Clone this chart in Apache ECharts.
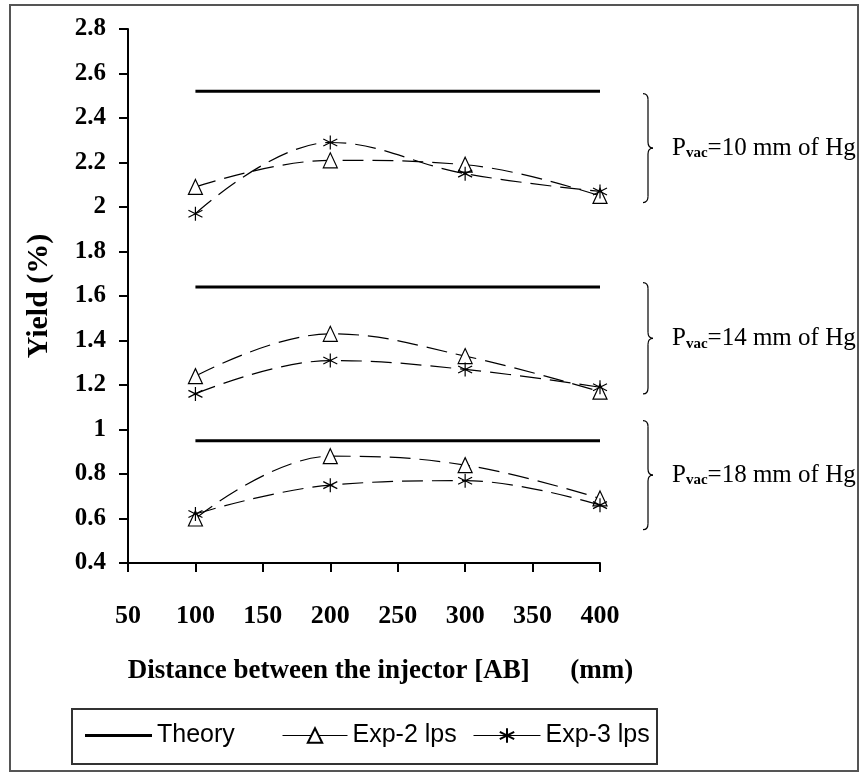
<!DOCTYPE html>
<html><head><meta charset="utf-8">
<script src="https://cdn.jsdelivr.net/npm/echarts@6/dist/echarts.min.js"></script>
<style>html,body{margin:0;padding:0;background:#fff}#c{width:861px;height:776px}</style>
</head><body><div id="c"></div>
<script>
// ---- data ----
const distances = [100, 200, 300, 400];
const theoryX = [100, 400];
const pressureLabels = ['10', '14', '18'];
const theory = [2.52, 1.64, 0.95];
const exp2_p10 = [2.09, 2.21, 2.19, 2.05];
const exp3_p10 = [1.97, 2.29, 2.15, 2.07];
const exp2_p14 = [1.24, 1.43, 1.33, 1.17];
const exp3_p14 = [1.16, 1.31, 1.27, 1.19];
const exp2_p18 = [0.60, 0.88, 0.84, 0.69];
const exp3_p18 = [0.62, 0.75, 0.77, 0.66];
const braceRanges = [[2.51, 2.02], [1.66, 1.16], [1.04, 0.55]];
const legendNames = ['Theory', 'Exp-2 lps', 'Exp-3 lps'];

const exp2 = [exp2_p10, exp2_p14, exp2_p18];
const exp3 = [exp3_p10, exp3_p14, exp3_p18];

const SERIF = "'Liberation Serif','Times New Roman',serif";
const SANS = "'Liberation Sans',Arial,sans-serif";
const starPath = 'path://M5,0 L5,10 M0.7,2.5 L9.3,7.5 M9.3,2.5 L0.7,7.5';

const series = [];
for (let g = 0; g < 3; g++) {
  series.push({
    name: 'Theory', type: 'line', symbol: 'none', silent: true,
    data: theoryX.map(x => [x, theory[g]]),
    lineStyle: {color: '#000', width: 3}, itemStyle: {color: '#000'}, z: 2
  });
  series.push({
    name: 'Exp-2 lps', type: 'line', smooth: 0.4,
    symbol: 'triangle', symbolSize: [14, 15],
    data: distances.map((x, i) => [x, exp2[g][i]]),
    lineStyle: {color: '#000', width: 1.2, type: [21, 9]},
    itemStyle: {color: '#fff', borderColor: '#000', borderWidth: 1.2}, z: 3
  });
  series.push({
    name: 'Exp-3 lps', type: 'line', smooth: 0.4,
    symbol: starPath, symbolSize: 14,
    data: distances.map((x, i) => [x, exp3[g][i]]),
    lineStyle: {color: '#000', width: 1.2, type: [21, 9]},
    itemStyle: {color: '#000', borderColor: '#000', borderWidth: 1.2}, z: 4
  });
}

const legendText = {fontFamily: SANS, fontSize: 25, color: '#000'};
const option = {
  backgroundColor: '#fff',
  animation: false,
  grid: {left: 128, right: 261, top: 29, bottom: 213},
  xAxis: {
    type: 'value', min: 50, max: 400, interval: 50,
    name: 'Distance between the injector [AB]      (mm)',
    nameLocation: 'middle', nameGap: 95,
    nameTextStyle: {fontFamily: SERIF, fontWeight: 'bold', fontSize: 27, color: '#000', padding: [0, 0, 0, 33]},
    axisLine: {lineStyle: {color: '#000', width: 2}},
    axisTick: {inside: false, length: 9, lineStyle: {color: '#000', width: 2}},
    axisLabel: {margin: 40, fontFamily: SERIF, fontWeight: 'bold', fontSize: 26, color: '#000'},
    splitLine: {show: false}
  },
  yAxis: {
    type: 'value', min: 0.4, max: 2.8, interval: 0.2,
    name: 'Yield (%)', nameLocation: 'middle', nameGap: 74,
    nameTextStyle: {fontFamily: SERIF, fontWeight: 'bold', fontSize: 30, color: '#000'},
    axisLine: {show: true, lineStyle: {color: '#000', width: 2}},
    axisTick: {show: true, inside: false, length: 9, lineStyle: {color: '#000', width: 2}},
    axisLabel: {margin: 22, fontFamily: SERIF, fontWeight: 'bold', fontSize: 25, color: '#000',
      formatter: v => String(Math.round(v * 10) / 10)},
    splitLine: {show: false}
  },
  legend: [
    {data: [{name: legendNames[0], icon: 'rect'}], left: 85, top: 723, padding: 0, itemWidth: 67, itemHeight: 3,
     textStyle: legendText, itemStyle: {color: '#000', borderWidth: 0}, selectedMode: false},
    {data: [legendNames[1]], left: 282, top: 723, padding: 0, itemWidth: 65, itemHeight: 18,
     textStyle: legendText, lineStyle: {width: 1, type: 'solid'}, selectedMode: false},
    {data: [legendNames[2]], left: 473, top: 723, padding: 0, itemWidth: 67, itemHeight: 18,
     textStyle: legendText, lineStyle: {width: 1, type: 'solid'}, selectedMode: false}
  ],
  series: series
};

const chart = echarts.init(document.getElementById('c'), null, {renderer: 'canvas'});
chart.setOption(option);

// annotations: braces + pressure labels, positioned via the axis scales
const graphics = [];
const braceStyle = {fill: null, stroke: '#000', lineWidth: 1.2};
braceRanges.forEach((r, i) => {
  const top = chart.convertToPixel({gridIndex: 0}, [400, r[0]]);
  const bot = chart.convertToPixel({gridIndex: 0}, [400, r[1]]);
  const x0 = top[0] + 43, yT = top[1], yB = bot[1], yM = (yT + yB) / 2;
  const xm = x0 + 5, xt = x0 + 10;
  const parts = [
    {type: 'bezierCurve', shape: {x1: x0, y1: yT, x2: xm, y2: yT + 6, cpx1: xm, cpy1: yT}},
    {type: 'line', shape: {x1: xm, y1: yT + 6, x2: xm, y2: yM - 6}},
    {type: 'bezierCurve', shape: {x1: xm, y1: yM - 6, x2: xt, y2: yM, cpx1: xm, cpy1: yM}},
    {type: 'bezierCurve', shape: {x1: xt, y1: yM, x2: xm, y2: yM + 6, cpx1: xm, cpy1: yM}},
    {type: 'line', shape: {x1: xm, y1: yM + 6, x2: xm, y2: yB - 6}},
    {type: 'bezierCurve', shape: {x1: xm, y1: yB - 6, x2: x0, y2: yB, cpx1: xm, cpy1: yB}}
  ];
  parts.forEach(p => { p.style = braceStyle; p.z = 10; graphics.push(p); });
  graphics.push({
    type: 'text', x: xt + 19, y: yM, z: 10,
    style: {
      text: `{p|P}{s|vac}{p|=${pressureLabels[i]} mm of Hg}`,
      verticalAlign: 'middle', align: 'left',
      rich: {
        p: {fontFamily: SERIF, fontSize: 25, fill: '#000', color: '#000', lineHeight: 26},
        s: {fontFamily: SERIF, fontSize: 15, fontWeight: 'bold', fill: '#000', color: '#000', lineHeight: 13, verticalAlign: 'bottom'}
      }
    }
  });
});
// legend box
graphics.push({type: 'rect', shape: {x: 72, y: 709, width: 585, height: 55},
  style: {fill: null, stroke: '#333', lineWidth: 2}, z: 1});
// outer frame
graphics.push({type: 'rect', shape: {x: 10, y: 5, width: 848, height: 766},
  style: {fill: null, stroke: '#555', lineWidth: 2}, z: 20});
chart.setOption({graphic: graphics});
</script>
</body></html>
